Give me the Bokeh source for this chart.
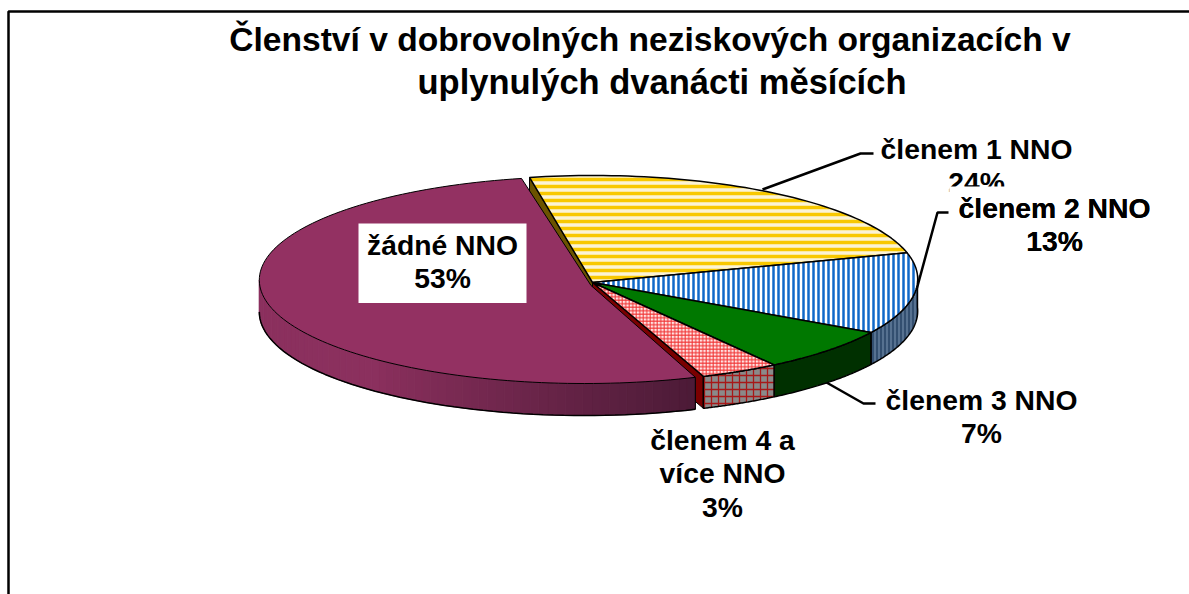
import math
from bokeh.plotting import figure
from bokeh.embed import file_html
from bokeh.resources import INLINE
from bokeh.core.properties import value

# ---- data ----
categories = ["členem 1 NNO", "členem 2 NNO", "členem 3 NNO", "členem 4 a více NNO", "žádné NNO"]
shares = [23.6, 13.1, 6.9, 3.4, 53.0]
title_lines = ["Členství v dobrovolných neziskových organizacích v", "uplynulých dvanácti měsících"]

# ---- page ----
W, H = 1189, 594
p = figure(width=W, height=H, x_range=(0, W), y_range=(H, 0), output_backend="svg",
           toolbar_location=None, min_border=0, outline_line_color=None,
           background_fill_color="white", border_fill_color="white")
p.axis.visible = False
p.grid.visible = False

FONT = value("Liberation Sans")

# ---- pie projection ----
CX, CY, RX, AY, PERSP, DEPTH = 592.0, 282.0, 325.0, 103.4, 0.0338, 32.0
START = -10.8
# small angular distortion of the 3D view, per slice boundary
VIEW_TWEAK = [0.0, -0.7, -1.9, -1.2, 1.0, 0.0]


def project(theta, r=1.0, off=(0.0, 0.0), dz=0.0):
    t = math.radians(theta)
    u, v = r * math.sin(t), -r * math.cos(t)
    k = 1 + PERSP * v
    return CX + RX * u / k + off[0], CY + AY * v / k + off[1] + dz


def arc(a, b, off=(0.0, 0.0), dz=0.0, n=60):
    pts = [project(a + (b - a) * i / n, 1.0, off, dz) for i in range(n + 1)]
    return [q[0] for q in pts], [q[1] for q in pts]


edges = [START]
for s in shares:
    edges.append(edges[-1] + s * 3.6)
edges = [e + d for e, d in zip(edges, VIEW_TWEAK)]

MAROON_RIM = (-8.0, 1.0)
MAROON_APEX = (-1.5, 3.0)

# leader lines first, walls hide their ends
for xs, ys in [([762, 860, 873], [189, 153, 153]),
               ([915, 937, 948], [293, 212, 212]),
               ([826, 863, 875], [382, 403, 403])]:
    p.line(xs, ys, line_color="black", line_width=2.5)

# --- radial walls ---
ax, ay = project(0, 0)
rx0, ry0 = project(edges[0])
p.patch([rx0, ax, ax, rx0], [ry0, ay, ay + DEPTH, ry0 + DEPTH], fill_color="#6B5300", line_color="black", line_width=1)
rx3, ry3 = project(edges[4])
p.patch([rx3, ax, ax, rx3], [ry3, ay, ay + DEPTH, ry3 + DEPTH], fill_color="#7A0000", line_color="black", line_width=1)


def wall(a, b, **kw):
    x1, y1 = arc(a, b)
    x2, y2 = arc(b, a, dz=DEPTH)
    p.patch(x1 + x2, y1 + y2, line_color="black", line_width=1.5, **kw)


# --- rim walls ---
wall(max(edges[1], 86), edges[2], fill_color="#334F70", hatch_pattern="vertical_line",
     hatch_color="#6E88A6", hatch_scale=4, hatch_weight=1.2)
wall(edges[2], edges[3], fill_color="#003000")
wall(edges[3], edges[4], fill_color="#8A8A8A", hatch_pattern="cross", hatch_color="#A81818",
     hatch_scale=7, hatch_weight=1.3)

# --- top faces ---
faces = [
    dict(fill_color="#FBF3D5", hatch_pattern="horizontal_line", hatch_color="#F8C800", hatch_scale=7, hatch_weight=3.5),
    dict(fill_color="#FFFFFF", hatch_pattern="vertical_line", hatch_color="#1068C8", hatch_scale=5, hatch_weight=2.5),
    dict(fill_color="#007800"),
    dict(fill_color="#FFE4E4", hatch_pattern="cross", hatch_color="#F03030", hatch_scale=3.5, hatch_weight=1),
]
for i, kw in enumerate(faces):
    xs, ys = arc(edges[i], edges[i + 1])
    p.patch([ax] + xs, [ay] + ys, line_color="black", line_width=1.5, **kw)

# --- maroon slice wall with a horizontal shading ---
a0, a1 = edges[4], 272.0
n = 70
pxs, pys, cols = [], [], []
c_dark, c_light = (76, 27, 55), (139, 48, 94)
for i in range(n):
    t0, t1 = a0 + (a1 - a0) * i / n, a0 + (a1 - a0) * (i + 1) / n
    x0, y0 = project(t0, 1.0, MAROON_RIM)
    x1, y1 = project(t1, 1.0, MAROON_RIM)
    pxs.append([x0, x1, x1, x0])
    pys.append([y0, y1, y1 + DEPTH, y0 + DEPTH])
    f = min(1.0, ((i + 0.5) / n) / 0.55)
    col = tuple(int(c_dark[j] + (c_light[j] - c_dark[j]) * f) for j in range(3))
    cols.append("#%02X%02X%02X" % col)
p.patches(pxs, pys, fill_color=cols, line_color=cols, line_width=1)
xs, ys = arc(a0, a1, MAROON_RIM, DEPTH)
p.line(xs, ys, line_color="black", line_width=1.5)
x0, y0 = project(a0, 1.0, MAROON_RIM)
p.line([x0, x0], [y0, y0 + DEPTH], line_color="black", line_width=1)

# maroon top
xs, ys = arc(edges[4], edges[5], MAROON_RIM, n=120)
p.patch([ax + MAROON_APEX[0]] + xs, [ay + MAROON_APEX[1]] + ys, fill_color="#933162", line_color="black", line_width=1)

# --- labels ---
def pct(i):
    return f"{round(shares[i])}%"


labels = [
    (976, 150, [categories[0], pct(0)], 94),
    (1054, 209, [categories[1], pct(1)], 105),
    (981, 401, [categories[2], pct(2)], 105),
    (722, 441, ["členem 4 a", "více NNO", pct(3)], 85),
    (442, 246, [categories[4], pct(4)], 84),
]
SPACING = 33.5
FS = "28.3px"
TEXT_SHIFT = -2
for cx, cy, lines, hw in labels:
    top = cy - 23
    bottom = cy + SPACING * (len(lines) - 1) + 23
    p.quad(left=[cx - hw], right=[cx + hw], top=[top], bottom=[bottom], fill_color="white", line_color=None)
    for j, t in enumerate(lines):
        p.text([cx], [cy + j * SPACING + TEXT_SHIFT], text=[t], text_font=FONT, text_font_style="bold",
               text_font_size=FS, text_align="center", text_baseline="middle", text_color="black")
    if lines[0] == categories[0]:
        p.quad(left=[949], right=[1158], top=[187], bottom=[232], fill_color="white", line_color=None)

for j, t in enumerate(labels[1][2]):
    p.text([labels[1][0]], [labels[1][1] + j * SPACING + TEXT_SHIFT], text=[t], text_font=FONT, text_font_style="bold",
           text_font_size=FS, text_align="center", text_baseline="middle", text_color="black")

# --- title ---
for x, y, t, fs in zip([649.5, 661.5], [39, 81], title_lines, ["33.6px", "34.5px"]):
    p.text([x], [y], text=[t], text_font=FONT, text_font_style="bold", text_font_size=fs,
           text_align="center", text_baseline="middle", text_color="black")

# --- chart frame: only top and left are in the picture ---
p.line([8, 8, W], [H, 11, 11], line_color="black", line_width=2.5)

open("out.html", "w").write(file_html(p, INLINE))
